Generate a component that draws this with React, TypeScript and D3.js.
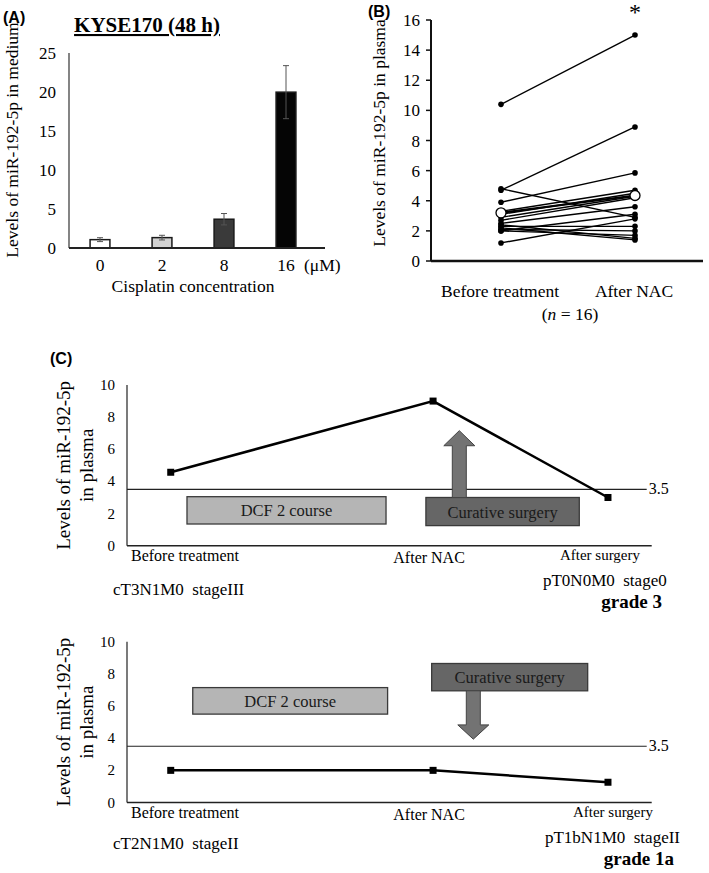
import React from "react";
import * as d3 from "d3";

// ---------- Panel A data ----------
const aCategories = ["0", "2", "8", "16"];
const aMeans = [1.07, 1.33, 3.69, 19.98];
const aErrors = [0.25, 0.3, 0.73, 3.4];
const aTicks = [0, 5, 10, 15, 20, 25];
const aFills = ["#ffffff", "#d2d2d2", "#3a3a3a", "#050505"];

// ---------- Panel B data ----------
const bGroups = ["Before treatment", "After NAC"];
const bBefore = [10.4, 4.7, 4.8, 3.9, 3.3, 3.1, 2.9, 2.7, 2.5, 1.2, 2.4, 2.3, 2.2, 2.1, 2.0, 2.0];
const bAfter = [15.0, 8.9, 2.9, 5.85, 4.7, 4.5, 4.3, 4.2, 3.6, 2.8, 1.5, 2.3, 1.4, 2.0, 3.1, 1.7];
const bMean = [3.2, 4.35];
const bTicks = [0, 2, 4, 6, 8, 10, 12, 14, 16];

// ---------- Panel C data ----------
const cStages = ["Before treatment", "After NAC", "After surgery"];
const cStagePos = [0.25, 1.75, 2.75];
const cCase1 = [4.57, 9.0, 3.0];
const cCase2 = [2.0, 2.0, 1.26];
const cThreshold = 3.5;
const cTicks = [0, 2, 4, 6, 8, 10];

const SERIF = "'Liberation Serif', 'Times New Roman', serif";
const SANS = "'Liberation Sans', Arial, sans-serif";

function PanelA() {
  const y = d3.scaleLinear().domain([0, 25]).range([248, 53]);
  const x = d3.scaleBand().domain(aCategories).range([69, 317]).paddingInner(0.68).paddingOuter(0.34);
  const bw = x.bandwidth();
  return (
    <g>
      <text x={3} y={23} fontFamily={SANS} fontWeight="bold" fontSize={16}>(A)</text>
      <text x={147} y={32} textAnchor="middle" fontFamily={SERIF} fontWeight="bold" fontSize={21}
        style={{ textDecoration: "underline" }}>KYSE170 (48 h)</text>
      <text transform={`translate(17.5,140) rotate(-90)`} textAnchor="middle" fontFamily={SERIF} fontSize={17.5}>
        Levels of miR-192-5p in medium
      </text>
      <line x1={69} x2={69} y1={y(25)} y2={y(0)} stroke="#333" strokeWidth={1.2} />
      {aTicks.map((t) => (
        <text key={t} x={56} y={y(t) + 6} textAnchor="end" fontFamily={SERIF} fontSize={17}>{t}</text>
      ))}
      {aCategories.map((c, i) => {
        const cx = (x(c) as number) + bw / 2;
        return (
          <g key={c}>
            <rect x={x(c)} y={y(aMeans[i])} width={bw} height={y(0) - y(aMeans[i])}
              fill={aFills[i]} stroke="#1a1a1a" strokeWidth={1.5} />
            <line x1={cx} x2={cx} y1={y(aMeans[i] + aErrors[i])} y2={y(aMeans[i] - aErrors[i])} stroke="#555" strokeWidth={1} />
            <line x1={cx - 3} x2={cx + 3} y1={y(aMeans[i] + aErrors[i])} y2={y(aMeans[i] + aErrors[i])} stroke="#555" strokeWidth={1} />
            <line x1={cx - 3} x2={cx + 3} y1={y(aMeans[i] - aErrors[i])} y2={y(aMeans[i] - aErrors[i])} stroke="#555" strokeWidth={1} />
            <text x={cx} y={271} textAnchor="middle" fontFamily={SERIF} fontSize={17.5}>{c}</text>
          </g>
        );
      })}
      <line x1={69} x2={325} y1={y(0)} y2={y(0)} stroke="#222" strokeWidth={2} />
      <text x={304} y={271} fontFamily={SERIF} fontSize={17.5}>(μM)</text>
      <text x={193} y={292} textAnchor="middle" fontFamily={SERIF} fontSize={17.5}>Cisplatin concentration</text>
    </g>
  );
}

function PanelB() {
  const y = d3.scaleLinear().domain([0, 16]).range([261, 20]);
  const x = d3.scalePoint().domain(bGroups).range([501, 635]);
  const x0 = x(bGroups[0]) as number;
  const x1 = x(bGroups[1]) as number;
  return (
    <g>
      <text x={368} y={17} fontFamily={SANS} fontWeight="bold" fontSize={16}>(B)</text>
      <text transform={`translate(385,133) rotate(-90)`} textAnchor="middle" fontFamily={SERIF} fontSize={17.5}>
        Levels of miR-192-5p in plasma
      </text>
      <line x1={431} x2={431} y1={y(16)} y2={y(0)} stroke="#111" strokeWidth={2} />
      {bTicks.map((t) => (
        <g key={t}>
          <line x1={426} x2={431} y1={y(t)} y2={y(t)} stroke="#111" strokeWidth={1.5} />
          <text x={420} y={y(t) + 6} textAnchor="end" fontFamily={SERIF} fontSize={17}>{t}</text>
        </g>
      ))}
      {bBefore.map((v, i) => (
        <line key={"l" + i} x1={x0} x2={x1} y1={y(v)} y2={y(bAfter[i])} stroke="#000" strokeWidth={1.4} />
      ))}
      <line x1={x0} x2={x1} y1={y(bMean[0])} y2={y(bMean[1])} stroke="#000" strokeWidth={2.2} />
      {bBefore.map((v, i) => (
        <g key={"p" + i}>
          <circle cx={x0} cy={y(v)} r={2.8} fill="#000" />
          <circle cx={x1} cy={y(bAfter[i])} r={2.8} fill="#000" />
        </g>
      ))}
      <circle cx={x0} cy={y(bMean[0])} r={5} fill="#fff" stroke="#000" strokeWidth={1.3} />
      <circle cx={x1} cy={y(bMean[1])} r={5} fill="#fff" stroke="#000" strokeWidth={1.3} />
      <line x1={431} x2={703} y1={y(0)} y2={y(0)} stroke="#111" strokeWidth={2.5} />
      <text x={x1} y={20} textAnchor="middle" fontFamily={SERIF} fontSize={24}>*</text>
      {bGroups.map((g) => (
        <text key={g} x={(x(g) as number) - 1} y={297} textAnchor="middle" fontFamily={SERIF} fontSize={17.5}>{g}</text>
      ))}
      <text x={570} y={320} textAnchor="middle" fontFamily={SERIF} fontSize={17.5}>
        (<tspan fontStyle="italic">n</tspan> = 16)
      </text>
    </g>
  );
}

type Box = { x0: number; x1: number; y0: number; y1: number; label: string; fill: string };
type Arrow = { x: number; from: number; base: number; tip: number };

function PanelC(props: {
  y0: number; values: number[]; boxes: Box[]; arrow: Arrow;
  surgeryDx: number; stageLeft: string; stageRight: string; grade: string; rightEnd: number;
  gradeEnd: number; stageDy: number; rightStageDy: number;
}) {
  const { y0, values, boxes, arrow } = props;
  const y = d3.scaleLinear().domain([0, 10]).range([y0, y0 - 160.7]);
  const x = d3.scaleLinear().domain([0, 3]).range([127, 651.7]);
  const line = d3.line<number>().x((_, i) => x(cStagePos[i])).y((d) => y(d));
  const ax = x(arrow.x);
  const sw = 7;
  const hw = 15.5;
  const arrowPath =
    `M${ax - sw},${y(arrow.from)} L${ax - sw},${y(arrow.base)} L${ax - hw},${y(arrow.base)} ` +
    `L${ax},${y(arrow.tip)} L${ax + hw},${y(arrow.base)} L${ax + sw},${y(arrow.base)} L${ax + sw},${y(arrow.from)} Z`;
  return (
    <g>
      <text transform={`translate(70,${y(5)}) rotate(-90)`} textAnchor="middle" fontFamily={SERIF} fontSize={19}>
        Levels of miR-192-5p
      </text>
      <text transform={`translate(93,${y(5)}) rotate(-90)`} textAnchor="middle" fontFamily={SERIF} fontSize={19}>
        in plasma
      </text>
      <line x1={127} x2={127} y1={y(10)} y2={y(0)} stroke="#222" strokeWidth={1.2} />
      {cTicks.map((t) => (
        <text key={t} x={115} y={y(t) + 5} textAnchor="end" fontFamily={SERIF} fontSize={15}>{t}</text>
      ))}
      <line x1={127} x2={x(3) - 5} y1={y(cThreshold)} y2={y(cThreshold)} stroke="#222" strokeWidth={1.2} />
      <text x={x(3) - 3} y={y(cThreshold) + 5} fontFamily={SERIF} fontSize={16}>{cThreshold}</text>
      {boxes.map((b) => (
        <g key={b.label}>
          <rect x={x(b.x0)} y={y(b.y0)} width={x(b.x1) - x(b.x0)} height={y(b.y1) - y(b.y0)}
            fill={b.fill} stroke="#3a3a3a" strokeWidth={1.3} />
          <text x={(x(b.x0) + x(b.x1)) / 2} y={(y(b.y0) + y(b.y1)) / 2 + 6} textAnchor="middle"
            fontFamily={SERIF} fontSize={16.5} fill="#1a1a1a">{b.label}</text>
        </g>
      ))}
      <path d={arrowPath} fill="#737373" stroke="#444" strokeWidth={1} />
      <path d={line(values) as string} fill="none" stroke="#000" strokeWidth={2.5} />
      {values.map((v, i) => (
        <rect key={i} x={x(cStagePos[i]) - 3.5} y={y(v) - 3.5} width={7} height={7} fill="#000" />
      ))}
      <line x1={127} x2={651.7} y1={y(0)} y2={y(0)} stroke="#222" strokeWidth={1.6} />
      <text x={131} y={y0 + 15.5} fontFamily={SERIF} fontSize={16}>{cStages[0]}</text>
      <text x={x(cStagePos[1]) - 4} y={y0 + 17.5} textAnchor="middle" fontFamily={SERIF} fontSize={16}>{cStages[1]}</text>
      <text x={x(cStagePos[2]) + props.surgeryDx} y={y0 + 14.5} textAnchor="middle" fontFamily={SERIF} fontSize={15}>{cStages[2]}</text>
      <text x={113} y={y0 + props.stageDy} fontFamily={SERIF} fontSize={17} style={{ whiteSpace: "pre" }}>{props.stageLeft}</text>
      <text x={props.rightEnd} y={y0 + props.rightStageDy} textAnchor="end" fontFamily={SERIF} fontSize={17} style={{ whiteSpace: "pre" }}>{props.stageRight}</text>
      <text x={props.gradeEnd} y={y0 + props.rightStageDy + 22} textAnchor="end" fontFamily={SERIF} fontWeight="bold" fontSize={19}>{props.grade}</text>
    </g>
  );
}

export default function App() {
  return (
    <svg width={709} height={873} style={{ position: "absolute", left: 0, top: 0, background: "#fff" }}>
      <rect width={709} height={873} fill="#fff" />
      <PanelA />
      <PanelB />
      <text x={50} y={364} fontFamily={SANS} fontWeight="bold" fontSize={16}>(C)</text>
      <PanelC
        y0={545.7}
        values={cCase1}
        boxes={[
          { x0: 0.343, x1: 1.481, y0: 3.05, y1: 1.35, label: "DCF 2 course", fill: "#b5b5b5" },
          { x0: 1.709, x1: 2.586, y0: 3.0, y1: 1.25, label: "Curative surgery", fill: "#666666" },
        ]}
        arrow={{ x: 1.9, from: 3.0, base: 6.22, tip: 7.16 }}
        surgeryDx={-8}
        stageLeft={"cT3N1M0  stageIII"}
        stageRight={"pT0N0M0  stage0"}
        grade="grade 3"
        rightEnd={666.7}
        gradeEnd={662}
        stageDy={49.5}
        rightStageDy={40.5}
      />
      <PanelC
        y0={802.5}
        values={cCase2}
        boxes={[
          { x0: 0.376, x1: 1.49, y0: 7.15, y1: 5.5, label: "DCF 2 course", fill: "#b5b5b5" },
          { x0: 1.742, x1: 2.634, y0: 8.65, y1: 6.95, label: "Curative surgery", fill: "#666666" },
        ]}
        arrow={{ x: 1.98, from: 6.95, base: 4.83, tip: 3.94 }}
        surgeryDx={5}
        stageLeft={"cT2N1M0  stageII"}
        stageRight={"pT1bN1M0  stageII"}
        grade="grade 1a"
        rightEnd={680}
        gradeEnd={674}
        stageDy={46.5}
        rightStageDy={40.5}
      />
    </svg>
  );
}
